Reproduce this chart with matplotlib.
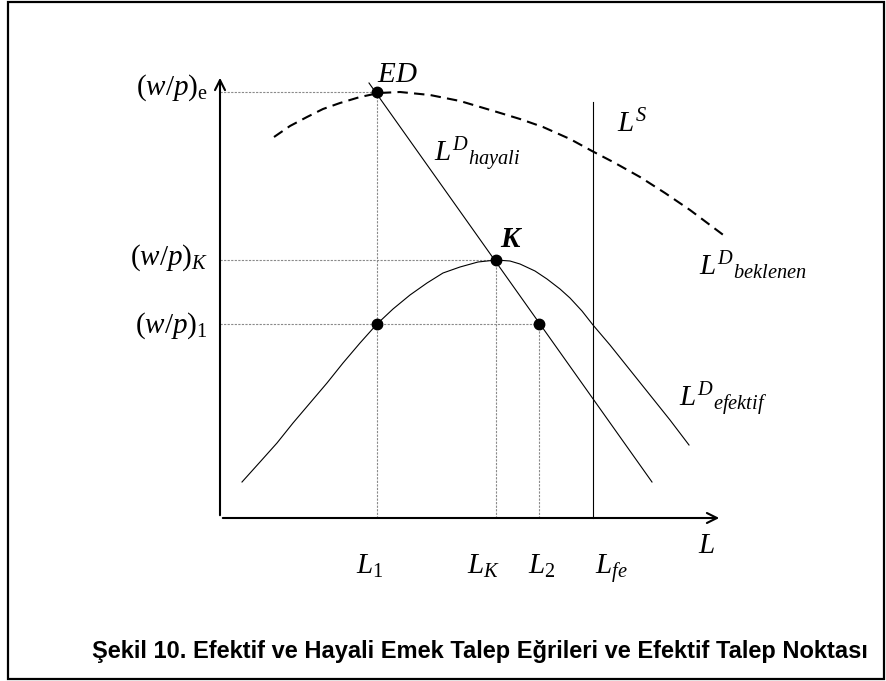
import numpy as np
import matplotlib
matplotlib.use('Agg')
import matplotlib.pyplot as plt
from matplotlib.patches import Rectangle

plt.rcParams['mathtext.fontset'] = 'custom'
plt.rcParams['mathtext.rm'] = 'Liberation Serif'
plt.rcParams['mathtext.it'] = 'Liberation Serif:italic'
plt.rcParams['mathtext.bf'] = 'Liberation Serif:bold'

# istihdam (L) ve reel ucret (w/p) seviyeleri
L1, LK, L2, Lfe = 1.57, 2.76, 3.19, 3.73
w_e, w_K, w_1 = 4.26, 2.58, 1.94

# efektif emek talebi (can egrisi)
efektif_L = [0.22, 0.40, 0.57, 0.73, 0.90, 1.07, 1.23, 1.40, 1.57, 1.73, 1.90, 2.07, 2.23, 2.40,
             2.58, 2.76, 2.90, 3.00, 3.15, 3.27, 3.40, 3.50, 3.62, 3.73, 3.90, 4.10, 4.30, 4.50, 4.69]
efektif_w = [0.36, 0.56, 0.75, 0.95, 1.15, 1.35, 1.55, 1.75, 1.94, 2.09, 2.23, 2.35, 2.45, 2.51,
             2.56, 2.58, 2.57, 2.54, 2.47, 2.39, 2.29, 2.20, 2.07, 1.93, 1.73, 1.48, 1.23, 0.98, 0.73]

# beklenen emek talebi (kesikli)
beklenen_L = [0.54, 0.70, 0.87, 1.03, 1.20, 1.40, 1.59, 1.80, 2.10, 2.40, 2.77, 3.00, 3.23, 3.50,
              3.72, 3.95, 4.20, 4.45, 4.70, 4.90, 5.06]
beklenen_w = [3.81, 3.92, 4.01, 4.09, 4.15, 4.21, 4.25, 4.26, 4.23, 4.17, 4.06, 3.99, 3.91, 3.79,
              3.67, 3.55, 3.41, 3.25, 3.08, 2.93, 2.81]

# hayali emek talebi (dogru)
hayali_L = [1.49, 4.32]
hayali_w = [4.35, 0.36]

LS_top = 4.16
x_max, y_max = 5.02, 4.43

fig = plt.figure(figsize=(8.86, 6.81), dpi=100)
ax = fig.add_axes([0, 0, 1, 1])
ax.set_xlim(-2.20, 6.66)
ax.set_ylim(-1.63, 5.18)
ax.axis('off')

fig.patches.append(Rectangle((0.009, 0.003), 0.989, 0.994, transform=fig.transFigure,
                             fill=False, ec='black', lw=1.6))

# eksenler
ax.annotate('', xy=(x_max, 0), xytext=(0, 0),
            arrowprops=dict(arrowstyle='->', lw=1.5, color='black', mutation_scale=18))
ax.annotate('', xy=(0, y_max), xytext=(0, 0),
            arrowprops=dict(arrowstyle='->', lw=1.5, color='black', mutation_scale=18))

# kilavuz cizgileri
guide = dict(color='#8a8a8a', lw=0.8, ls=(0, (2, 1.2)))
ax.plot([0, L1], [w_e, w_e], **guide)
ax.plot([0, LK], [w_K, w_K], **guide)
ax.plot([0, L2], [w_1, w_1], **guide)
ax.plot([L1, L1], [0, w_e], **guide)
ax.plot([LK, LK], [0, w_K], **guide)
ax.plot([L2, L2], [0, w_1], **guide)

# egriler
ax.plot([Lfe, Lfe], [0, LS_top], color='black', lw=0.8)
ax.plot(efektif_L, efektif_w, color='black', lw=0.8)
ax.plot(hayali_L, hayali_w, color='black', lw=0.8)
ax.plot(beklenen_L, beklenen_w, color='black', lw=1.5, ls=(0, (5, 3)))

ax.plot([L1, LK, L1, L2], [w_e, w_K, w_1, w_1], 'o', color='black', ms=7.5)

fs = 21
ax.text(1.57, 4.36, '$ED$', fontsize=fs)
ax.text(2.80, 2.71, 'K', fontsize=fs, family='Liberation Serif', style='italic', weight='bold')
ax.text(2.14, 3.56, r'$L^{D}{}_{hayali}$', fontsize=fs)
ax.text(3.97, 3.86, r'$L^{S}$', fontsize=fs)
ax.text(4.79, 2.43, r'$L^{D}{}_{beklenen}$', fontsize=fs)
ax.text(4.59, 1.11, r'$L^{D}{}_{efektif}$', fontsize=fs)

ax.text(-0.12, 4.23, r'$(w/p)_{\mathrm{e}}$', fontsize=fs, ha='right')
ax.text(-0.12, 2.53, r'$(w/p)_{K}$', fontsize=fs, ha='right')
ax.text(-0.12, 1.85, r'$(w/p)_{1}$', fontsize=fs, ha='right')

ax.text(1.36, -0.56, r'$L_{1}$', fontsize=fs)
ax.text(2.47, -0.56, r'$L_{K}$', fontsize=fs)
ax.text(3.08, -0.56, r'$L_{2}$', fontsize=fs)
ax.text(3.75, -0.56, r'$L_{fe}$', fontsize=fs)
ax.text(4.78, -0.35, r'$L$', fontsize=fs)

fig.text(0.104, 0.034, 'Şekil 10. Efektif ve Hayali Emek Talep Eğrileri ve Efektif Talep Noktası',
         fontsize=17, family='Liberation Sans', weight='bold')

fig.savefig('out.png', dpi=100)
